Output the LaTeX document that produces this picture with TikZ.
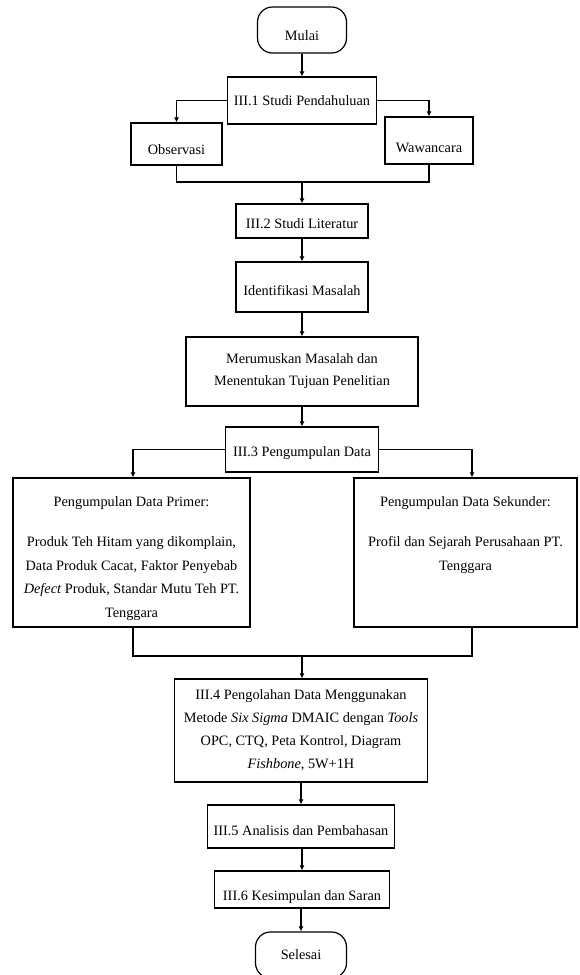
\documentclass[tikz,border=0pt]{standalone}
\usepackage{fontspec}
\setmainfont{Liberation Serif}
\usetikzlibrary{arrows.meta}
\begin{document}
\begin{tikzpicture}[x=1pt,y=-1pt,
  every node/.style={font=\fontsize{14.3}{23}\selectfont},
  box/.style={draw, line width=1.2pt, inner sep=2pt, align=center},
  term/.style={box, rounded corners=15pt},
  tdown/.style={text height=#1, text depth=0pt},
  conn/.style={line width=1.1pt},
  arr/.style={conn, -{Latex[length=5pt,width=5pt]}},
]
\useasboundingbox (0,0) rectangle (580,975);

\node[term, tdown=21.4pt, minimum width=89pt, minimum height=46pt] (mulai) at (302,30) {Mulai};
\node[box, minimum width=149pt, minimum height=47pt] (s1) at (302,100.5) {III.1 Studi Pendahuluan};
\node[box, tdown=21.4pt, minimum width=91pt, minimum height=42pt] (obs) at (176.5,144) {Observasi};
\node[box, tdown=24.4pt, minimum width=88pt, minimum height=47pt] (waw) at (429,140.5) {Wawancara};
\node[box, tdown=15.4pt, minimum width=132pt, minimum height=34pt] (s2) at (302,221) {III.2 Studi Literatur};
\node[box, tdown=17.4pt, minimum width=132pt, minimum height=50pt] (ident) at (302,287) {Identifikasi Masalah};
\node[box, minimum width=232pt, minimum height=69pt, font=\fontsize{14.3}{22}\selectfont] (rumus) at (302,371.5) {Merumuskan Masalah dan\\Menentukan Tujuan Penelitian};
\node[box, tdown=14.4pt, minimum width=153pt, minimum height=45pt] (s3) at (302,449.5) {III.3 Pengumpulan Data};
\node[box, minimum width=237pt, minimum height=149pt, font=\fontsize{14.3}{23.6}\selectfont] (prim) at (131.5,552.5)
  {\parbox[c][111pt][t]{230pt}{\centering Pengumpulan Data Primer:\\[16pt]
   Produk Teh Hitam yang dikomplain,\\
   Data Produk Cacat, Faktor Penyebab\\
   \textit{Defect} Produk, Standar Mutu Teh PT.\\
   Tenggara}};
\node[box, minimum width=223pt, minimum height=149pt, font=\fontsize{14.3}{24.5}\selectfont] (sek) at (465.5,552.5)
  {\parbox[c][111pt][t]{215pt}{\centering Pengumpulan Data Sekunder:\\[15pt]
   Profil dan Sejarah Perusahaan PT.\\
   Tenggara}};
\node[box, minimum width=253pt, minimum height=103pt] (s4) at (301,730.5)
  {III.4 Pengolahan Data Menggunakan\\
   Metode \textit{Six Sigma} DMAIC dengan \textit{Tools}\\
   OPC, CTQ, Peta Kontrol, Diagram\\
   \textit{Fishbone}, 5W+1H};
\node[box, tdown=18.4pt, minimum width=187pt, minimum height=43pt] (s5) at (301,826.5) {III.5 Analisis dan Pembahasan};
\node[box, tdown=22.4pt, minimum width=175pt, minimum height=37pt] (s6) at (302,889.5) {III.6 Kesimpulan dan Saran};
\node[term, minimum width=91pt, minimum height=46pt] (selesai) at (301,955) {Selesai};

\coordinate (m1) at (302,182);
\coordinate (m2) at (302,656);

\draw[arr] (mulai) -- (s1);
\draw[arr] (s1.west) -| (obs.north);
\draw[arr] (s1.east) -| (waw.north);
\draw[conn] (obs.south) |- (m1) -| (waw.south);
\draw[arr] (m1) -- (s2.north);
\draw[arr] (s2) -- (ident);
\draw[arr] (ident) -- (rumus);
\draw[arr] (rumus) -- (s3);
\draw[arr] (s3.west) -| ([xshift=1.5pt]prim.north);
\draw[arr] (s3.east) -| ([xshift=6.5pt]sek.north);
\draw[conn] ([xshift=1.5pt]prim.south) |- (m2) -| ([xshift=6.5pt]sek.south);
\draw[arr] (m2) -- (m2 |- s4.north);
\draw[arr] (s4.south -| s5.north) -- (s5.north);
\draw[arr] (s5.south -| s6.north) -- (s6.north);
\draw[arr] (s6.south -| selesai.north) -- (selesai.north);
\end{tikzpicture}
\end{document}
